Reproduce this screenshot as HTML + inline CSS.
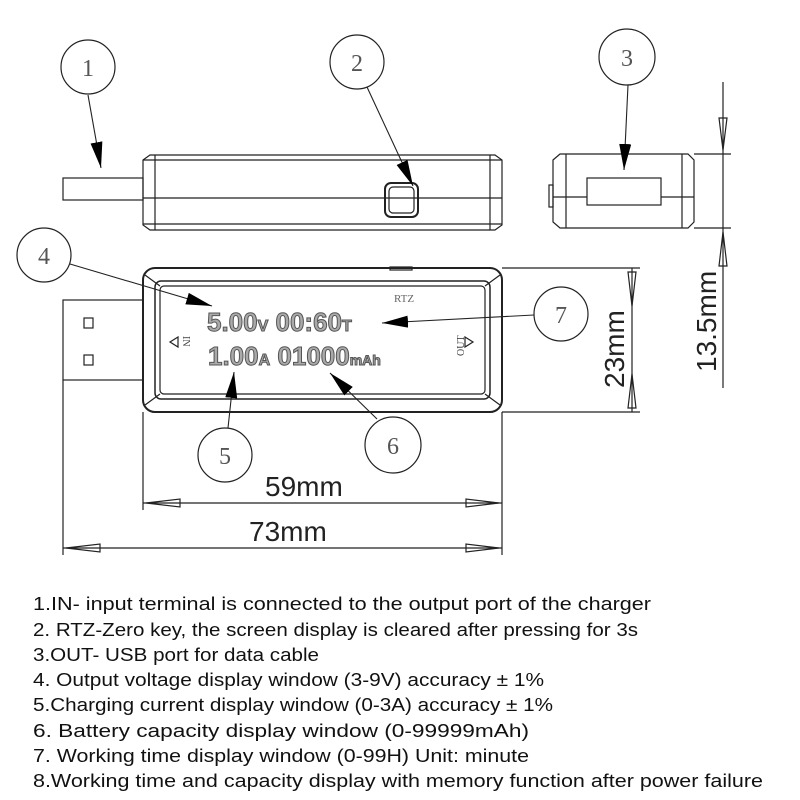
<!DOCTYPE html>
<html><head><meta charset="utf-8"><style>
html,body{margin:0;padding:0;background:#fff;}
svg{display:block;}
.t{font-family:"Liberation Sans",sans-serif;font-size:18.5px;fill:#111;}
.c{font-family:"Liberation Serif",serif;font-size:24px;fill:#555;text-anchor:middle;}
.d{font-family:"Liberation Sans",sans-serif;font-size:28px;fill:#222;}
.lcd{font-family:"Liberation Sans",sans-serif;font-weight:bold;fill:#aaa;stroke:#555;stroke-width:1;}
</style></head><body>
<svg width="800" height="800" viewBox="0 0 800 800" xmlns="http://www.w3.org/2000/svg">
<defs>
<marker id="a" markerWidth="26" markerHeight="12" refX="26" refY="6" orient="auto" markerUnits="userSpaceOnUse" viewBox="0 0 26 12"><path d="M0,0 L26,6 L0,12z" fill="#000"/></marker>
</defs>
<rect width="800" height="800" fill="#fff"/>
<g fill="none" stroke="#222" stroke-width="1.2">
<circle cx="88" cy="67" r="27"/><circle cx="357" cy="62" r="27"/><circle cx="627" cy="57" r="28"/>
<circle cx="44" cy="255" r="27"/><circle cx="561" cy="314" r="27"/><circle cx="225" cy="455" r="27"/><circle cx="393" cy="445" r="28"/>
<rect x="63" y="178" width="80" height="22"/>
<path d="M143,160 L150,155 L495,155 L502,160 L502,225 L495,230 L150,230 L143,225Z"/>
<line x1="155" y1="155" x2="155" y2="230"/><line x1="490" y1="155" x2="490" y2="230"/>
<line x1="143" y1="160" x2="502" y2="160"/><line x1="143" y1="224" x2="502" y2="224"/>
<line x1="143" y1="198" x2="502" y2="198"/>
<rect x="385" y="183" width="33" height="34" rx="6" stroke-width="2"/>
<rect x="389" y="187" width="25" height="26" rx="4"/>
<path d="M553,160 L560,154 L688,154 L694,160 L694,222 L688,228 L560,228 L553,222Z"/>
<line x1="566" y1="154" x2="566" y2="228"/><line x1="682" y1="154" x2="682" y2="228"/>
<line x1="553" y1="197" x2="694" y2="197"/>
<rect x="587" y="178" width="74" height="27" fill="#fff"/>
<rect x="549" y="185" width="4" height="22"/>
<line x1="723" y1="82" x2="723" y2="388"/>
<line x1="694" y1="154" x2="731" y2="154"/><line x1="694" y1="228" x2="731" y2="228"/>
<path d="M719,118 L727,118 L723,150Z M719,266 L727,266 L723,232Z"/>
<rect x="63" y="300" width="80" height="80"/>
<rect x="84" y="318" width="9" height="10"/><rect x="84" y="355" width="9" height="10"/>
<rect x="143" y="268" width="359" height="144" rx="12" stroke-width="2"/>
<rect x="155" y="281" width="335" height="118" rx="6" stroke-width="1.5"/>
<rect x="160" y="286" width="325" height="108" rx="4"/>
<path d="M145,275 L160,286 M500,275 L485,286 M145,405 L160,394 M500,405 L485,394"/>
<rect x="390" y="267" width="22" height="3"/>
<path d="M178,337 L170,342 L178,347Z M465,337 L473,342 L465,347Z"/>
<line x1="502" y1="268" x2="640" y2="268"/><line x1="502" y1="412" x2="640" y2="412"/>
<line x1="632" y1="268" x2="632" y2="412"/>
<path d="M628,272 L636,272 L632,306Z M628,408 L636,408 L632,374Z"/>
<line x1="143" y1="412" x2="143" y2="510"/><line x1="502" y1="412" x2="502" y2="555"/>
<line x1="63" y1="380" x2="63" y2="555"/>
<line x1="143" y1="503" x2="502" y2="503"/>
<path d="M146,503 L180,499 L180,507Z M499,503 L466,499 L466,507Z"/>
<line x1="63" y1="548" x2="502" y2="548"/>
<path d="M66,548 L100,544 L100,552Z M499,548 L466,544 L466,552Z"/>
</g>
<g stroke="#222" stroke-width="1.1">
<line x1="88" y1="95" x2="101" y2="168" marker-end="url(#a)"/>
<line x1="367" y1="87" x2="413" y2="186" marker-end="url(#a)"/>
<line x1="628" y1="85" x2="624" y2="170" marker-end="url(#a)"/>
<line x1="70" y1="264" x2="212" y2="306" marker-end="url(#a)"/>
<line x1="534" y1="315" x2="382" y2="323" marker-end="url(#a)"/>
<line x1="228" y1="428" x2="234" y2="372" marker-end="url(#a)"/>
<line x1="377" y1="419" x2="330" y2="373" marker-end="url(#a)"/>
</g>
<g class="c">
<text x="88" y="76">1</text><text x="357" y="71">2</text><text x="627" y="66">3</text>
<text x="44" y="264">4</text><text x="561" y="323">7</text><text x="225" y="464">5</text><text x="393" y="454">6</text>
</g>
<text class="lcd" x="207" y="331" font-size="26">5.00<tspan font-size="16">V</tspan> 00:60<tspan font-size="16">T</tspan></text>
<text class="lcd" x="208" y="365" font-size="26">1.00<tspan font-size="16">A</tspan> 01000<tspan font-size="14">mAh</tspan></text>
<text x="394" y="302" font-family="Liberation Serif,serif" font-size="11" fill="#666">RTZ</text>
<text transform="translate(183,336) rotate(90)" font-family="Liberation Serif,serif" font-size="10" fill="#444">IN</text>
<text transform="translate(464,356) rotate(-90)" font-family="Liberation Serif,serif" font-size="10" fill="#444">OUT</text>
<text class="d" transform="translate(716,372) rotate(-90)">13.5mm</text>
<text class="d" transform="translate(624,388) rotate(-90)">23mm</text>
<text class="d" x="265" y="496">59mm</text>
<text class="d" x="249" y="541">73mm</text>
<g class="t">
<text x="33" y="610" textLength="618" lengthAdjust="spacingAndGlyphs">1.IN- input terminal is connected to the output port of the charger</text>
<text x="33" y="636" textLength="605" lengthAdjust="spacingAndGlyphs">2. RTZ-Zero key, the screen display is cleared after pressing for 3s</text>
<text x="33" y="661" textLength="286" lengthAdjust="spacingAndGlyphs">3.OUT- USB port for data cable</text>
<text x="33" y="686" textLength="511" lengthAdjust="spacingAndGlyphs">4. Output voltage display window (3-9V) accuracy ± 1%</text>
<text x="33" y="711" textLength="520" lengthAdjust="spacingAndGlyphs">5.Charging current display window (0-3A) accuracy ± 1%</text>
<text x="33" y="737" textLength="496" lengthAdjust="spacingAndGlyphs">6. Battery capacity display window (0-99999mAh)</text>
<text x="33" y="762" textLength="496" lengthAdjust="spacingAndGlyphs">7. Working time display window (0-99H) Unit: minute</text>
<text x="33" y="787" textLength="730" lengthAdjust="spacingAndGlyphs">8.Working time and capacity display with memory function after power failure</text>
</g>
</svg>
</body></html>
